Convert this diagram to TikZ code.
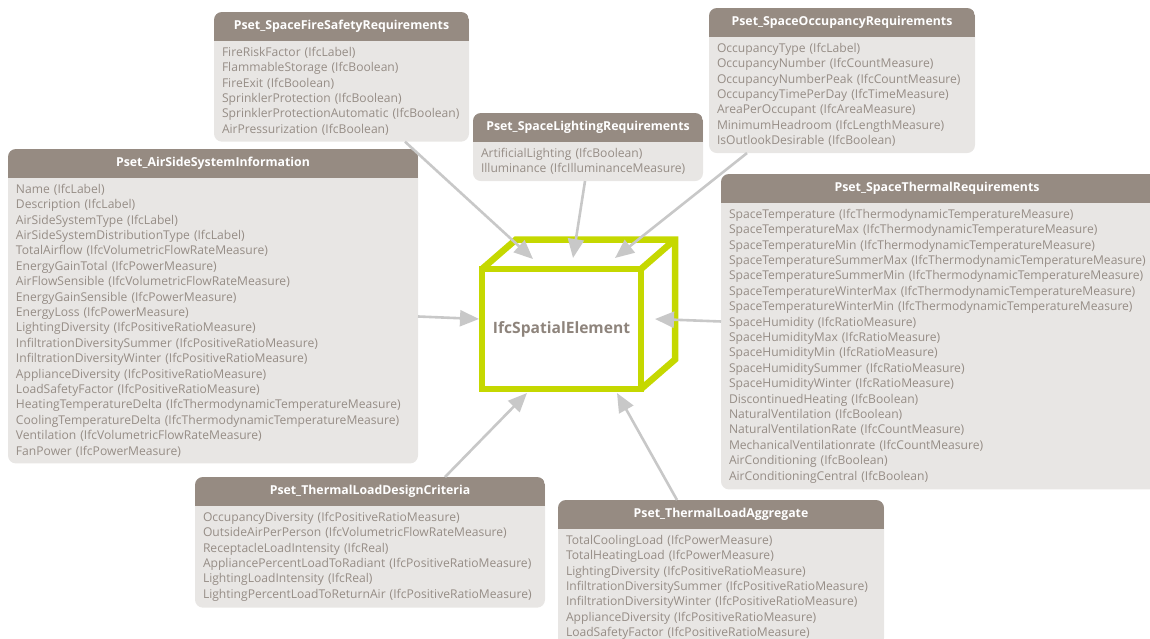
\documentclass[tikz,border=0pt]{standalone}
\usepackage{fontspec}
\setmainfont{Open Sans}
\usetikzlibrary{
    positioning,
    arrows.meta,
    backgrounds
}

\definecolor{psethead}{HTML}{968B82}
\definecolor{psetbody}{HTML}{E8E6E4}
\definecolor{psettext}{HTML}{968D86}
\definecolor{linkgrey}{HTML}{C8C8C8}
\definecolor{cubegreen}{HTML}{C5D800}
\definecolor{cubetext}{HTML}{8E847C}

\tikzset{%
    pset head/.style={%
        rectangle,
        anchor=north west,
        minimum width=#1,
        minimum height=28.5pt,
        inner sep=0pt,
        outer sep=0pt,
        text=white,
        font=\fontsize{12.3}{14}\selectfont\bfseries
    },
    pset list/.style={%
        rectangle,
        text width=#1,
        inner xsep=8pt,
        inner ysep=6.5pt,
        outer sep=0pt,
        align=left,
        text=psettext,
        font=\fontsize{12.1}{15.4}\selectfont
    },
    space/.style={%
        rectangle,
        draw=cubegreen,
        fill=white,
        line width=6.5pt,
        minimum width=159pt,
        minimum height=120pt,
        inner sep=0pt,
        outer sep=0pt,
        text=cubetext,
        font=\fontsize{15.6}{18}\selectfont\bfseries
    },
    cube edge/.style={%
        draw=cubegreen,
        line width=6.5pt
    },
    link/.style={%
        draw=linkgrey,
        line width=2.6pt,
        -{Triangle[length=19pt, width=16pt]}
    },
}

\begin{document}
\begin{tikzpicture}[x=1pt, y=-1pt]

    \useasboundingbox (0,0) rectangle (1150,638);

    % property sets
    \node[pset head=255pt] (fire) at (214,12) {Pset\_SpaceFireSafetyRequirements};
    \node[pset list=239pt, below=0pt of fire] (fire-list) {%
        FireRiskFactor (IfcLabel)\\
        FlammableStorage (IfcBoolean)\\
        FireExit (IfcBoolean)\\
        SprinklerProtection (IfcBoolean)\\
        SprinklerProtectionAutomatic (IfcBoolean)\\
        AirPressurization (IfcBoolean)};

    \node[pset head=266pt] (occ) at (709,8) {Pset\_SpaceOccupancyRequirements};
    \node[pset list=250pt, below=0pt of occ] (occ-list) {%
        OccupancyType (IfcLabel)\\
        OccupancyNumber (IfcCountMeasure)\\
        OccupancyNumberPeak (IfcCountMeasure)\\
        OccupancyTimePerDay (IfcTimeMeasure)\\
        AreaPerOccupant (IfcAreaMeasure)\\
        MinimumHeadroom (IfcLengthMeasure)\\
        IsOutlookDesirable (IfcBoolean)};

    \node[pset head=230pt] (light) at (473,113) {Pset\_SpaceLightingRequirements};
    \node[pset list=214pt, below=0pt of light] (light-list) {%
        ArtificialLighting (IfcBoolean)\\
        Illuminance (IfcIlluminanceMeasure)};

    \node[pset head=410pt] (air) at (8,149) {Pset\_AirSideSystemInformation};
    \node[pset list=394pt, below=0pt of air] (air-list) {%
        Name (IfcLabel)\\
        Description (IfcLabel)\\
        AirSideSystemType (IfcLabel)\\
        AirSideSystemDistributionType (IfcLabel)\\
        TotalAirflow (IfcVolumetricFlowRateMeasure)\\
        EnergyGainTotal (IfcPowerMeasure)\\
        AirFlowSensible (IfcVolumetricFlowRateMeasure)\\
        EnergyGainSensible (IfcPowerMeasure)\\
        EnergyLoss (IfcPowerMeasure)\\
        LightingDiversity (IfcPositiveRatioMeasure)\\
        InfiltrationDiversitySummer (IfcPositiveRatioMeasure)\\
        InfiltrationDiversityWinter (IfcPositiveRatioMeasure)\\
        ApplianceDiversity (IfcPositiveRatioMeasure)\\
        LoadSafetyFactor (IfcPositiveRatioMeasure)\\
        HeatingTemperatureDelta (IfcThermodynamicTemperatureMeasure)\\
        CoolingTemperatureDelta (IfcThermodynamicTemperatureMeasure)\\
        Ventilation (IfcVolumetricFlowRateMeasure)\\
        FanPower (IfcPowerMeasure)};

    % runs off the right edge of the page
    \node[pset head=440pt] (therm) at (721,174) {\hspace*{-8pt}Pset\_SpaceThermalRequirements};
    \node[pset list=424pt, below=0pt of therm] (therm-list) {%
        SpaceTemperature (IfcThermodynamicTemperatureMeasure)\\
        SpaceTemperatureMax (IfcThermodynamicTemperatureMeasure)\\
        SpaceTemperatureMin (IfcThermodynamicTemperatureMeasure)\\
        SpaceTemperatureSummerMax (IfcThermodynamicTemperatureMeasure)\\
        SpaceTemperatureSummerMin (IfcThermodynamicTemperatureMeasure)\\
        SpaceTemperatureWinterMax (IfcThermodynamicTemperatureMeasure)\\
        SpaceTemperatureWinterMin (IfcThermodynamicTemperatureMeasure)\\
        SpaceHumidity (IfcRatioMeasure)\\
        SpaceHumidityMax (IfcRatioMeasure)\\
        SpaceHumidityMin (IfcRatioMeasure)\\
        SpaceHumiditySummer (IfcRatioMeasure)\\
        SpaceHumidityWinter (IfcRatioMeasure)\\
        DiscontinuedHeating (IfcBoolean)\\
        NaturalVentilation (IfcBoolean)\\
        NaturalVentilationRate (IfcCountMeasure)\\
        MechanicalVentilationrate (IfcCountMeasure)\\
        AirConditioning (IfcBoolean)\\
        AirConditioningCentral (IfcBoolean)};

    \node[pset head=350pt] (design) at (195,477) {Pset\_ThermalLoadDesignCriteria};
    \node[pset list=334pt, below=0pt of design] (design-list) {%
        OccupancyDiversity (IfcPositiveRatioMeasure)\\
        OutsideAirPerPerson (IfcVolumetricFlowRateMeasure)\\
        ReceptacleLoadIntensity (IfcReal)\\
        AppliancePercentLoadToRadiant (IfcPositiveRatioMeasure)\\
        LightingLoadIntensity (IfcReal)\\
        LightingPercentLoadToReturnAir (IfcPositiveRatioMeasure)};

    \node[pset head=326pt] (aggr) at (558,500) {Pset\_ThermalLoadAggregate};
    \node[pset list=310pt, below=0pt of aggr] (aggr-list) {%
        TotalCoolingLoad (IfcPowerMeasure)\\
        TotalHeatingLoad (IfcPowerMeasure)\\
        LightingDiversity (IfcPositiveRatioMeasure)\\
        InfiltrationDiversitySummer (IfcPositiveRatioMeasure)\\
        InfiltrationDiversityWinter (IfcPositiveRatioMeasure)\\
        ApplianceDiversity (IfcPositiveRatioMeasure)\\
        LoadSafetyFactor (IfcPositiveRatioMeasure)};

    % box backgrounds: light body with a dark title band
    \begin{scope}[on background layer]
        \foreach \p in {fire, occ, light, air, therm, design, aggr} {
            \fill[psetbody, rounded corners=8pt] (\p.north west) rectangle (\p-list.south east);
            \begin{scope}
                \clip[rounded corners=8pt] (\p.north west) rectangle (\p-list.south east);
                \fill[psethead] (\p.north west) rectangle (\p.south east);
            \end{scope}
        }
    \end{scope}

    % the spatial element as a box
    \node[space] (space) at (561.5,329) {IfcSpatialElement};
    \draw[cube edge] (space.north west) -- ++(34,-29.5) -| ([shift={(34,-29.5)}]space.south east) -- (space.south east);
    \draw[cube edge] (space.north east) -- ++(34,-29.5);

    \draw[link] ([xshift=63.5pt]fire-list.south) to ([xshift=-28.5pt, yshift=10pt]space.north);
    \draw[link] ([xshift=-3pt]light-list.south) to ([xshift=11.5pt, yshift=11pt]space.north);
    \draw[link] ([xshift=38pt]occ-list.south west) to ([xshift=53.5pt, yshift=11pt]space.north);
    \draw[link] ([yshift=4pt]air-list.east) to ([xshift=-3pt, yshift=10pt]space.west);
    \draw[link] ([yshift=24.5pt]therm-list.west) to ([xshift=14pt, yshift=10pt]space.east);
    \draw[link] ([xshift=75pt]design.north) to ([xshift=-34.5pt, yshift=-4pt]space.south);
    \draw[link] ([xshift=-44pt]aggr.north) to ([xshift=55.5pt, yshift=-4pt]space.south);
\end{tikzpicture}
\end{document}
